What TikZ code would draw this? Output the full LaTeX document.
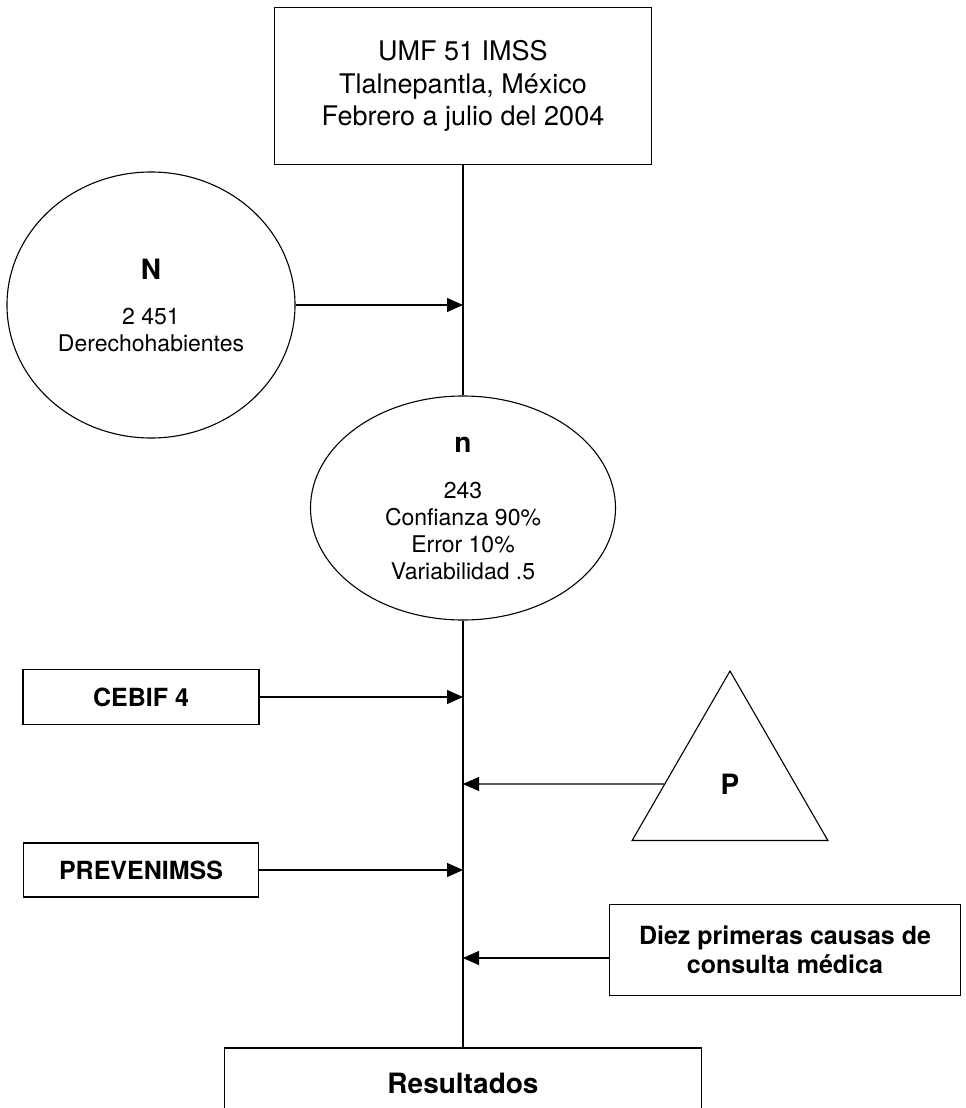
\documentclass[tikz,border=0pt]{standalone}
\usepackage{fontspec}
\setmainfont{TeX Gyre Heros}
\usetikzlibrary{arrows.meta,shapes.geometric}
\begin{document}
\begin{tikzpicture}[x=1pt, y=-1pt, line width=1.1pt,
  caja/.style={draw, rectangle, inner sep=0pt, align=center},
  elip/.style={draw, ellipse, inner sep=0pt, align=center},
  flecha/.style={-{Triangle[length=16pt,width=14pt]}}]
\useasboundingbox (0,0) rectangle (966,1108);
\clip (0,0) rectangle (966,1108);
\node[caja, minimum width=377pt, minimum height=157pt, font=\fontsize{27}{32.5}\selectfont] (umf) at (463,86) {UMF 51 IMSS\\Tlalnepantla, México\\Febrero a julio del 2004};
\node[elip, minimum width=288pt, minimum height=266pt, font=\fontsize{23}{27}\selectfont] (pob) at (151,305) {{\fontsize{28}{28}\selectfont\bfseries N}\\[18pt]2 451\\Derechohabientes};
\node[elip, minimum width=305pt, minimum height=224pt, font=\fontsize{23}{27}\selectfont] (muestra) at (463,508) {{\fontsize{28}{28}\selectfont\bfseries n}\\[19pt]243\\Confianza 90\%\\Error 10\%\\Variabilidad .5};
\node[caja, minimum width=236pt, minimum height=55pt, font=\fontsize{25}{29}\selectfont\bfseries] (cebif) at (141,697) {CEBIF 4};
\node[draw, regular polygon, regular polygon sides=3, minimum size=226pt, inner sep=0pt, font=\fontsize{28}{28}\selectfont\bfseries] (pfx) at (730,784) {P};
\node[caja, minimum width=235pt, minimum height=54pt, font=\fontsize{25}{29}\selectfont\bfseries] (prev) at (141,870) {PREVENIMSS};
\node[caja, minimum width=351pt, minimum height=91pt, font=\fontsize{25}{29}\selectfont\bfseries] (diez) at (785,950) {Diez primeras causas de\\consulta médica};
\node[caja, minimum width=477pt, minimum height=70pt, font=\fontsize{28}{28}\selectfont\bfseries] (res) at (463,1083) {Resultados};
\draw (umf) -- (muestra);
\draw (muestra) -- (res);
\draw[flecha] (pob) -- (pob -| muestra);
\draw[flecha] (cebif) -- (cebif -| muestra);
\draw[flecha] (pfx) -- (pfx -| muestra);
\draw[flecha] (prev) -- (prev -| muestra);
\draw[flecha] ([yshift=-8pt]diez.west) -- ([yshift=-8pt]diez.west -| muestra);
\end{tikzpicture}
\end{document}
